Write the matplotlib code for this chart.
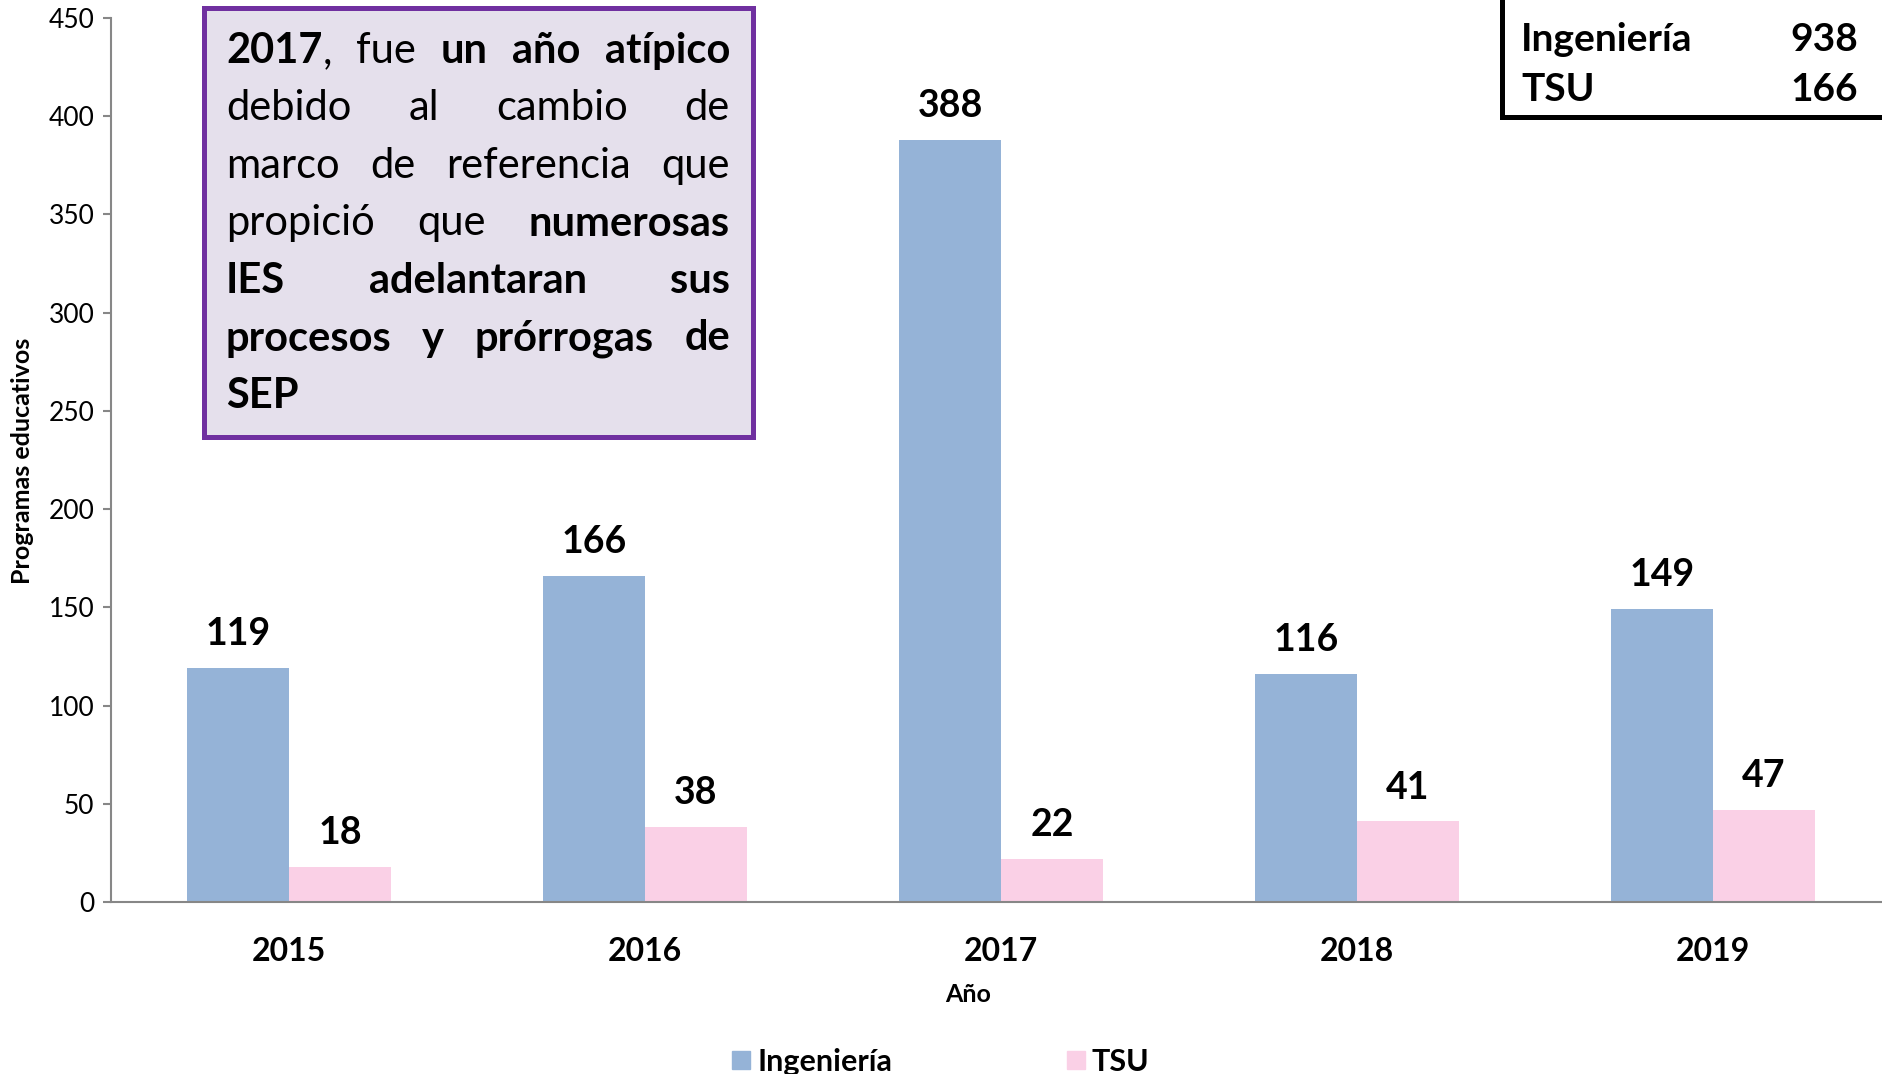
import numpy as np
import matplotlib
matplotlib.use("Agg")
import matplotlib.pyplot as plt
from matplotlib.patches import Rectangle, Patch

plt.rcParams['font.family'] = ['Lato', 'DejaVu Sans']

# data
years = ['2015', '2016', '2017', '2018', '2019']
ingenieria = [119, 166, 388, 116, 149]
tsu = [18, 38, 22, 41, 47]
totals = [('Ingeniería', 938), ('TSU', 166)]
yticks = [0, 50, 100, 150, 200, 250, 300, 350, 400, 450]

box_lines = [
    "**2017**, fue **un año atípico**",
    "debido al cambio de",
    "marco de referencia que",
    "propició que **numerosas**",
    "**IES adelantaran sus**",
    "**procesos y prórrogas de**",
    "**SEP**",
]

blue = '#95B3D7'
pink = '#FAD0E6'
gray = '#878787'

W, H = 1882, 1074
fig = plt.figure(figsize=(W / 100, H / 100), dpi=100)


def fx(px):
    return px / W


def fy(py):
    return 1 - py / H


ax = fig.add_axes([fx(111), fy(902), fx(W - 111), (902 - 18) / H])
x = np.arange(len(years))
bw = 0.2865
bars1 = ax.bar(x - bw / 2, ingenieria, bw, color=blue, label='Ingeniería')
bars2 = ax.bar(x + bw / 2, tsu, bw, color=pink, label='TSU')
ax.set_xlim(-0.5, -0.5 + (W - 111) / 356)
ax.set_ylim(0, 450)

for bars, vals in [(bars1, ingenieria), (bars2, tsu)]:
    for b, v in zip(bars, vals):
        ax.annotate(str(v), (b.get_x() + b.get_width() / 2, v), xytext=(0, 16.5),
                    textcoords='offset points', ha='center', va='baseline',
                    fontsize=27, fontweight='bold')

ax.set_xticks(x, years, fontsize=23, fontweight='bold')
ax.set_yticks(yticks, [str(t) for t in yticks], fontsize=19)
ax.tick_params(axis='x', length=0, pad=25)
ax.tick_params(axis='y', length=6, width=1.5, color=gray, pad=6)
for s in ['top', 'right']:
    ax.spines[s].set_visible(False)
for s in ['left', 'bottom']:
    ax.spines[s].set_color(gray)
    ax.spines[s].set_linewidth(1.5)

fig.text(fx(23), fy(461), 'Programas educativos', rotation=90, ha='center',
         va='center', fontsize=18, fontweight='bold')
fig.text(fx(968), fy(1002), 'Año', ha='center', va='baseline', fontsize=18,
         fontweight='bold')

renderer = fig.canvas.get_renderer()

# note box with justified text
fig.patches.append(Rectangle((fx(204), fy(437)), fx(753 - 204), (437 - 8) / H,
                             transform=fig.transFigure, facecolor='#E5E0EC',
                             edgecolor='#7030A0', linewidth=3.6, zorder=2))


def parse(line):
    words = [[]]
    for i, seg in enumerate(line.split('**')):
        bold = i % 2 == 1
        for j, p in enumerate(seg.split(' ')):
            if j > 0:
                words.append([])
            if p:
                words[-1].append((p, bold))
    return [w for w in words if w]


def width(s, size, bold):
    t = fig.text(0, 0, s, fontsize=size, fontweight='bold' if bold else 'normal')
    w = t.get_window_extent(renderer).width
    t.remove()
    return w


fs = 30
left, right = 226, 730
space = width('a a', fs, False) - width('aa', fs, False)
for k, line in enumerate(box_lines):
    words = parse(line)
    widths = [[width(p, fs, b) for p, b in w] for w in words]
    total = sum(sum(w) for w in widths)
    last = k == len(box_lines) - 1
    gap = space if last or len(words) < 2 else (right - left - total) / (len(words) - 1)
    xpos = left
    base = 63 + 57.5 * k
    for w, ws in zip(words, widths):
        for (p, b), pw in zip(w, ws):
            fig.text(fx(xpos), fy(base), p, fontsize=fs, va='baseline',
                     fontweight='bold' if b else 'normal', zorder=3)
            xpos += pw
        xpos += gap

# totals box top right
fig.patches.append(Rectangle((fx(1502), fy(117)), fx(500), 200 / H,
                             transform=fig.transFigure, facecolor='white',
                             edgecolor='black', linewidth=3.6, zorder=2,
                             clip_on=False))
for k, (name, val) in enumerate(totals):
    base = 51 + 50 * k
    fig.text(fx(1521), fy(base), name, fontsize=28, fontweight='bold', va='baseline')
    fig.text(fx(1858), fy(base), str(val), fontsize=28, fontweight='bold',
             va='baseline', ha='right')

# legend
lfs = 22
lpx = lfs * 100 / 72
wi = width('Ingeniería', lfs, True)
colsp = (1067 - 757 - wi) / lpx
handles = [Patch(color=blue, label='Ingeniería'), Patch(color=pink, label='TSU')]
fig.legend(handles=handles, loc='lower left', bbox_to_anchor=(fx(732), fy(1076)),
           ncol=2, frameon=False, prop={'size': lfs, 'weight': 'bold'},
           handlelength=18 / lpx, handleheight=16 / lpx, handletextpad=7 / lpx,
           columnspacing=colsp, borderpad=0, borderaxespad=0)

fig.savefig('out.png', dpi=100)
